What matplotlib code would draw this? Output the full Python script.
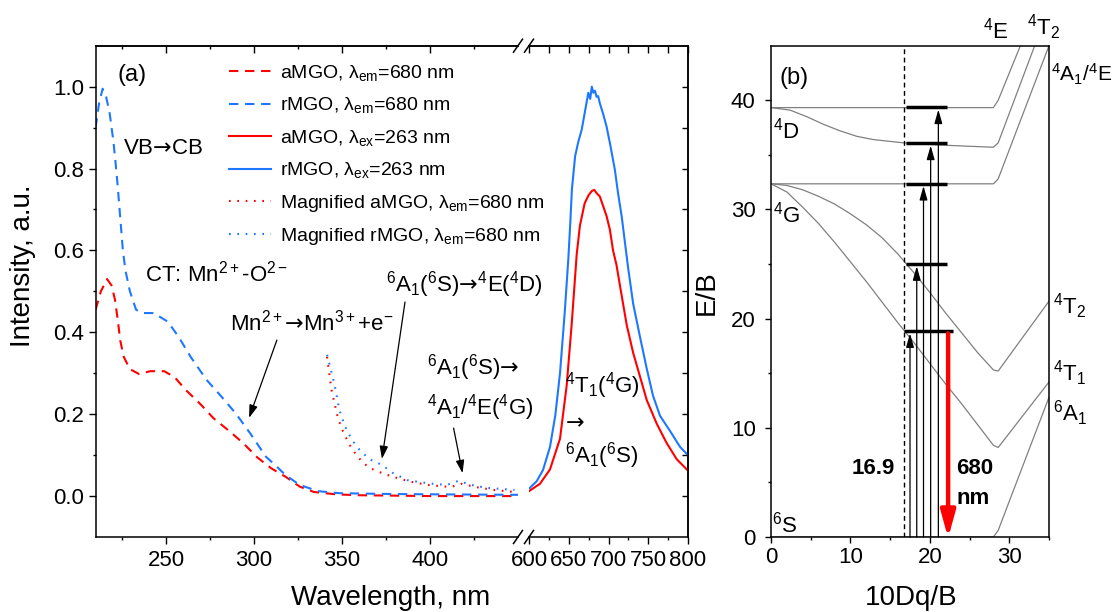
import numpy as np
import matplotlib
matplotlib.use('Agg')
import matplotlib.pyplot as plt
from matplotlib.lines import Line2D

plt.rcParams['font.family'] = ['Liberation Sans', 'DejaVu Sans']
plt.rcParams['mathtext.fontset'] = 'custom'
plt.rcParams['mathtext.rm'] = 'Liberation Sans'
plt.rcParams['mathtext.it'] = 'Liberation Sans:italic'
plt.rcParams['mathtext.bf'] = 'Liberation Sans:bold'
plt.rcParams['mathtext.sf'] = 'DejaVu Sans'
plt.rcParams['axes.linewidth'] = 1.1

RED = '#ff0000'
BLUE = '#1e78ff'
GRAY = '#808080'
ARR = r'$\mathsf{→}$'

# --- (a) excitation spectra, lambda_em = 680 nm ---
exWlA = [210, 213, 216.5, 219, 221, 222.6, 224, 226, 229.5, 234.7, 241, 249, 255, 261, 269, 277,
         285.6, 293.7, 301.7, 309.7, 318, 326, 334, 347, 360, 380, 400, 420, 450]
exIA = [0.455, 0.50, 0.53, 0.515, 0.48, 0.43, 0.38, 0.34, 0.31, 0.298, 0.305, 0.305, 0.29, 0.26, 0.227, 0.19,
        0.16, 0.13, 0.095, 0.068, 0.047, 0.023, 0.01, 0.004, 0.002, 0.001, 0.0, 0.0, 0.0]

exWlR = [210, 212, 214, 216, 218, 220, 221, 222.5, 224, 225.5, 227, 229.5, 233, 237, 243, 251, 257, 264,
         273, 281.5, 289.6, 297.7, 306.8, 311.9, 318, 326, 336.4, 348.5, 377, 410, 450]
exIR = [0.90, 0.96, 0.995, 0.975, 0.935, 0.87, 0.83, 0.76, 0.68, 0.60, 0.55, 0.50, 0.455, 0.447, 0.447, 0.426,
        0.39, 0.34, 0.284, 0.243, 0.202, 0.154, 0.096, 0.076, 0.051, 0.027, 0.012, 0.007, 0.005, 0.004, 0.003]

# magnified excitation tails
magWlA = [341.5, 344, 347.7, 350.9, 355, 359, 365, 371, 379, 389, 399, 411.6, 418, 426, 436, 448]
magIA = [0.34, 0.26, 0.19, 0.154, 0.12, 0.095, 0.07, 0.059, 0.047, 0.035, 0.027, 0.022, 0.03, 0.022, 0.015, 0.01]

magWlR = [341.5, 345.6, 348.5, 351.7, 355.7, 360.8, 366.6, 372.7, 379, 387, 399, 409.5, 416, 423.7, 432, 448]
magIR = [0.345, 0.276, 0.21, 0.17, 0.137, 0.108, 0.088, 0.076, 0.056, 0.039, 0.031, 0.027, 0.037, 0.027, 0.02, 0.015]

# emission spectra, lambda_ex = 263 nm
emWlA = [600, 613.8, 626.4, 639, 647.4, 653.7, 660, 664, 670, 675, 679, 682, 685, 689, 693, 697.7, 701.8,
         705.7, 710, 714.5, 723, 731, 739.6, 748, 760.6, 773, 785.8, 800]
emIA = [0.012, 0.03, 0.065, 0.14, 0.27, 0.42, 0.59, 0.66, 0.715, 0.735, 0.745, 0.748, 0.74, 0.732, 0.71, 0.683,
        0.65, 0.60, 0.565, 0.513, 0.417, 0.35, 0.292, 0.235, 0.177, 0.13, 0.09, 0.062]

emWlR = [600, 609.6, 617.7, 626.4, 633, 639, 645, 649.5, 652, 654, 658, 662, 666.3, 670, 674.6, 677, 679, 681,
         683, 685, 687, 689, 693, 697.5, 702, 708, 712, 716.6, 724.5, 731, 739.6, 748, 756, 764.8, 777.4, 790, 800]
emIR = [0.018, 0.036, 0.064, 0.12, 0.196, 0.30, 0.45, 0.58, 0.67, 0.75, 0.83, 0.865, 0.895, 0.935, 0.985, 0.97,
        1.0, 0.985, 0.99, 0.975, 0.977, 0.96, 0.935, 0.903, 0.86, 0.797, 0.74, 0.683, 0.56, 0.47, 0.389, 0.312,
        0.245, 0.196, 0.159, 0.12, 0.10]

# --- (b) Tanabe-Sugano diagram, d5 ---
tsX = [0, 2, 4, 6, 8, 10, 12, 14, 16, 18, 20, 22, 24, 26, 28, 28.6, 35]
t1gY = [32.35, 31.6, 30.2, 28.7, 27.0, 25.2, 23.4, 21.5, 19.6, 17.8, 15.9, 14.0, 12.2, 10.3, 8.4, 8.2, 14.2]
t2gY = [32.35, 32.2, 31.8, 31.2, 30.5, 29.6, 28.6, 27.4, 25.9, 24.2, 22.4, 20.5, 18.7, 16.9, 15.3, 15.2, 21.6]
a1eX = [0, 28, 28.6, 35]
a1eY = [32.35, 32.35, 32.8, 45]
t2dX = [0, 2.4, 4.5, 6.6, 8.7, 10.8, 12.9, 16.7, 21.3, 28, 28.6, 33.2]
t2dY = [39.33, 39.1, 38.5, 37.8, 37.2, 36.7, 36.4, 36.1, 35.9, 35.7, 36.1, 45]
edX = [0, 28, 28.6, 31.4]
edY = [39.33, 39.33, 40.0, 45]
a1sX = [0, 28, 28.6, 35]
a1sY = [0, 0, 0.6, 12.8]

levelY = [18.85, 25.0, 32.35, 36.05, 39.35]
levelX0 = [16.8, 17.0, 17.0, 17.0, 17.0]
levelX1 = [22.9, 22.2, 22.2, 22.2, 22.2]
arrowX = [17.5, 18.35, 19.2, 20.1, 21.07]
dqB = 16.7
emitX = 22.3

W, H = 1113, 612
fig = plt.figure(figsize=(W / 100, H / 100), dpi=100)


def box(x0, x1):
    # axes rectangle from pixel columns, common top/bottom rows
    return [x0 / W, (H - 537) / H, (x1 - x0) / W, (537 - 45.7) / H]


ax1 = fig.add_axes(box(95.6, 518))
ax2 = fig.add_axes(box(529, 688))
ax3 = fig.add_axes(box(771, 1049))
ax2.patch.set_visible(False)

dash = (4.5, 3.2)
dot = (0.8, 3.2)
lExA, = ax1.plot(exWlA, exIA, color=RED, lw=1.5, dashes=dash)
lExR, = ax1.plot(exWlR, exIR, color=BLUE, lw=1.5, dashes=dash)
lMagA, = ax1.plot(magWlA, magIA, color=RED, lw=1.5, dashes=dot)
lMagR, = ax1.plot(magWlR, magIR, color=BLUE, lw=1.5, dashes=dot)
lEmA, = ax2.plot(emWlA, emIA, color=RED, lw=1.5)
lEmR, = ax2.plot(emWlR, emIR, color=BLUE, lw=1.5)

for ax in (ax1, ax2):
    ax.set_ylim(-0.1, 1.1)
ax1.set_xlim(210, 450)
ax2.set_xlim(600, 800)

ax1.spines['right'].set_visible(False)
ax2.spines['left'].set_visible(False)

ax1.set_xticks([250, 300, 350, 400])
ax1.set_xticks([225, 275, 325, 375, 425], minor=True)
ax1.set_yticks(np.arange(0, 1.01, 0.2))
ax1.set_yticks(np.arange(0.1, 1.0, 0.2), minor=True)
ax1.yaxis.set_major_formatter(matplotlib.ticker.FormatStrFormatter('%.1f'))
ax2.set_xticks([600, 650, 700, 750, 800])
ax2.set_xticks([625, 675, 725, 775], minor=True)

for ax in (ax1, ax2):
    ax.tick_params(which='major', direction='out', length=5, width=1, labelsize=16, top=False, right=False)
    ax.tick_params(which='minor', direction='out', length=2.5, width=1, top=False, right=False)
    ax.tick_params(axis='x', pad=4.5)
    ax.tick_params(axis='y', pad=3)
ax2.tick_params(axis='y', which='both', left=False, labelleft=False)

for ax in (ax1, ax2):
    top = ax.secondary_xaxis('top')
    top.set_xticks(ax.get_xticks())
    top.set_xticks(ax.get_xticks(minor=True), minor=True)
    top.tick_params(which='both', direction='in', labeltop=False, width=1)
    top.tick_params(which='major', length=5)
    top.tick_params(which='minor', length=2.5 if ax is ax1 else 5)
right = ax2.secondary_yaxis('right')
right.set_yticks(np.arange(0, 1.01, 0.1))
right.tick_params(direction='in', length=4.5, width=1, labelright=False)

# axis break marks
for xc in (518, 529):
    for yc in (537, 45.7):
        fig.add_artist(Line2D([(xc - 4.5) / W, (xc + 4.5) / W],
                              [(H - yc - 6.5) / H, (H - yc + 6.5) / H],
                              color='k', lw=1.1, transform=fig.transFigure))

ax1.set_ylabel('Intensity, a.u.', fontsize=20)
ax1.yaxis.set_label_coords(-0.141, 0.553)
ax1.set_xlabel('Wavelength, nm', fontsize=20, va='baseline')
ax1.xaxis.set_label_coords(0.699, -0.138)

ax1.legend(handles=[lExA, lExR, lEmA, lEmR, lMagA, lMagR],
           labels=[r'aMGO, λ$_\mathregular{em}$=680 nm', r'rMGO, λ$_\mathregular{em}$=680 nm',
                   r'aMGO, λ$_\mathregular{ex}$=263 nm', r'rMGO, λ$_\mathregular{ex}$=263 nm',
                   r'Magnified aMGO, λ$_\mathregular{em}$=680 nm', r'Magnified rMGO, λ$_\mathregular{em}$=680 nm'],
           loc='upper left', bbox_to_anchor=(228.6 / W, 1 - 63 / H), bbox_transform=fig.transFigure,
           frameon=False, fontsize=14, handlelength=2.2, handletextpad=0.45, labelspacing=0.64,
           borderpad=0, borderaxespad=0)

fs = 16
ax1.text(222.2, 1.015, '(a)', fontsize=17, va='baseline')
ax1.text(225.6, 0.836, 'VB' + ARR + 'CB', fontsize=fs, va='baseline')
ax1.text(238, 0.523, r'CT: Mn$^{2+}$-O$^{2-}$', fontsize=fs, va='baseline')
ax1.text(286.4, 0.404, r'Mn$^{2+}$' + ARR + r'Mn$^{3+}$+e$^{-}$', fontsize=fs, va='baseline')
ax1.text(375, 0.4995, r'$^6$A$_1$($^6$S)' + ARR + r'$^4$E($^4$D)', fontsize=fs, va='baseline')
ax1.text(398.3, 0.296, r'$^6$A$_1$($^6$S)' + ARR, fontsize=fs, va='baseline')
ax1.text(398.3, 0.198, r'$^4$A$_1$/$^4$E($^4$G)', fontsize=fs, va='baseline')
ax2.text(645.3, 0.254, r'$^4$T$_1$($^4$G)', fontsize=fs, va='baseline')
ax2.text(645.3, 0.169, ARR, fontsize=fs, va='baseline')
ax2.text(645.3, 0.081, r'$^6$A$_1$($^6$S)', fontsize=fs, va='baseline')

arrow = dict(arrowstyle='-|>,head_length=0.55,head_width=0.18', color='k', lw=0.9,
             shrinkA=0, shrinkB=0, mutation_scale=14)
ax1.annotate('', xy=(297.2, 0.191), xytext=(313, 0.381), arrowprops=arrow)
ax1.annotate('', xy=(372.7, 0.0905), xytext=(385.8, 0.474), arrowprops=arrow)
ax1.annotate('', xy=(418.5, 0.056), xytext=(413.4, 0.166), arrowprops=arrow)

# --- (b) ---
for xs, ys in ((tsX, t1gY), (tsX, t2gY), (a1eX, a1eY), (t2dX, t2dY), (edX, edY), (a1sX, a1sY)):
    ax3.plot(xs, ys, color=GRAY, lw=0.9)
ax3.axvline(dqB, color='k', lw=1, dashes=(3.5, 2.5))
for x0, x1, y in zip(levelX0, levelX1, levelY):
    ax3.plot([x0, x1], [y, y], color='k', lw=2.5, solid_capstyle='butt')
upArrow = dict(arrowstyle='-|>,head_length=0.6,head_width=0.17', color='k', lw=0.9,
               shrinkA=0, shrinkB=0, mutation_scale=14)
for x, y in zip(arrowX, levelY):
    ax3.annotate('', xy=(x, y - 0.2), xytext=(x, 0), arrowprops=upArrow)
ax3.annotate('', xy=(emitX, -0.1), xytext=(emitX, levelY[0] - 0.2), annotation_clip=False,
             arrowprops=dict(arrowstyle='-|>,head_length=0.8,head_width=0.22', color=RED, lw=3.2,
                             shrinkA=0, shrinkB=0, mutation_scale=20))

ax3.set_xlim(0, 35)
ax3.set_ylim(0, 45)
ax3.set_xticks([0, 10, 20, 30])
ax3.set_xticks([5, 15, 25, 35], minor=True)
ax3.set_yticks([0, 10, 20, 30, 40])
ax3.set_yticks([5, 15, 25, 35], minor=True)
ax3.tick_params(which='major', direction='out', length=4, width=1, labelsize=16, top=False, right=False)
ax3.tick_params(which='minor', direction='out', length=2.5, width=1, top=False, right=False)
ax3.tick_params(axis='x', pad=3)
ax3.tick_params(axis='y', pad=7)
ax3.set_xlabel('10Dq/B', fontsize=20, va='baseline')
ax3.xaxis.set_label_coords(0.504, -0.138)
ax3.set_ylabel('E/B', fontsize=20)
ax3.yaxis.set_label_coords(-0.183, 0.498)

ax3.text(1.13, 41.5, '(b)', fontsize=17, va='baseline')
ax3.text(0.25, 36.5, r'$^4$D', fontsize=fs, va='baseline')
ax3.text(0.25, 28.8, r'$^4$G', fontsize=fs, va='baseline')
ax3.text(0.15, 0.4, r'$^6$S', fontsize=fs, va='baseline')
ax3.text(26.7, 45.66, r'$^4$E', fontsize=fs, va='baseline', clip_on=False)
ax3.text(32.2, 46.0, r'$^4$T$_2$', fontsize=fs, va='baseline', clip_on=False)
ax3.text(35.3, 41.7, r'$^4$A$_1$/$^4$E', fontsize=15, va='baseline', clip_on=False)
ax3.text(35.5, 20.4, r'$^4$T$_2$', fontsize=fs, va='baseline', clip_on=False)
ax3.text(35.5, 14.3, r'$^4$T$_1$', fontsize=fs, va='baseline', clip_on=False)
ax3.text(35.5, 10.6, r'$^6$A$_1$', fontsize=fs, va='baseline', clip_on=False)
ax3.text(15.6, 5.75, '16.9', fontsize=16, fontweight='bold', ha='right', va='baseline')
ax3.text(23.3, 5.75, '680', fontsize=16, fontweight='bold', va='baseline')
ax3.text(23.3, 3.0, 'nm', fontsize=16, fontweight='bold', va='baseline')

fig.savefig('out.png', dpi=100)
